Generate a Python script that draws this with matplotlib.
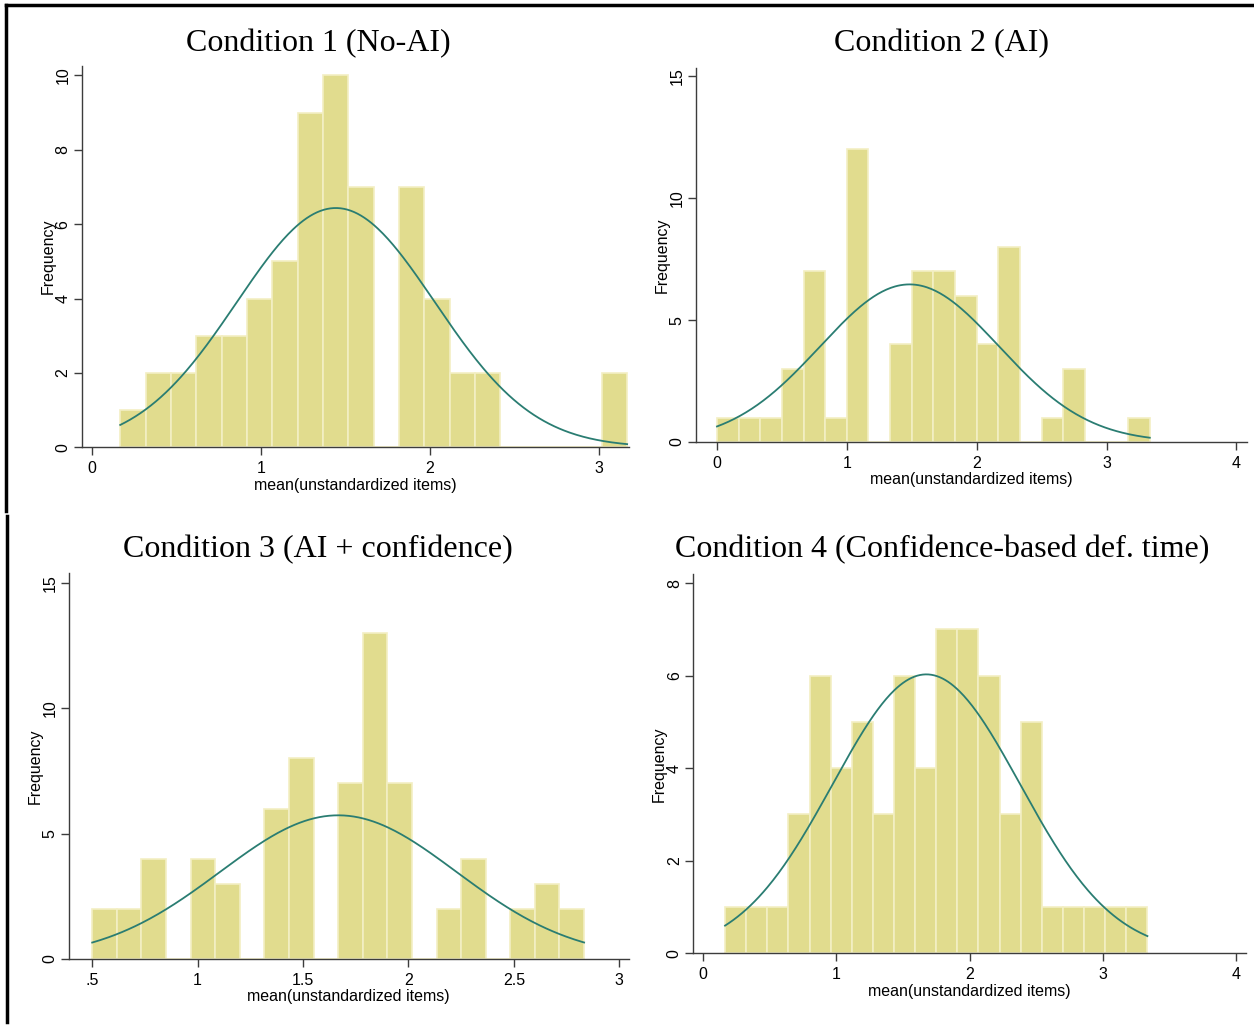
import numpy as np
import matplotlib.pyplot as plt
from matplotlib.lines import Line2D

# histogram counts (20 bins per condition)
titles = ["Condition 1 (No-AI)", "Condition 2 (AI)",
          "Condition 3 (AI + confidence)", "Condition 4 (Confidence-based def. time)"]

c1_counts = [1, 2, 2, 3, 3, 4, 5, 9, 10, 7, 0, 7, 4, 2, 2, 0, 0, 0, 0, 2]
c2_counts = [1, 1, 1, 3, 7, 1, 12, 0, 4, 7, 7, 6, 4, 8, 0, 1, 3, 0, 0, 1]
c3_counts = [2, 2, 4, 0, 4, 3, 0, 6, 8, 0, 7, 13, 7, 0, 2, 4, 0, 2, 3, 2]
c4_counts = [1, 1, 1, 3, 6, 4, 5, 3, 6, 4, 7, 7, 6, 3, 5, 1, 1, 1, 1, 1]

# data range (min, max) of each condition
c1_range = (0.167, 3.167)
c2_range = (0.0, 3.333)
c3_range = (0.5, 2.833)
c4_range = (0.167, 3.333)

# mean and sd of the normal overlay
c1_norm = (1.443, 0.586)
c2_norm = (1.483, 0.689)
c3_norm = (1.667, 0.5605)
c4_norm = (1.676, 0.702)

c1_xticks = [0, 1, 2, 3]
c2_xticks = [0, 1, 2, 3, 4]
c3_xticks = [0.5, 1, 1.5, 2, 2.5, 3]
c3_xticklabels = [".5", "1", "1.5", "2", "2.5", "3"]
c4_xticks = [0, 1, 2, 3, 4]

c1_yticks = [0, 2, 4, 6, 8, 10]
c2_yticks = [0, 5, 10, 15]
c3_yticks = [0, 5, 10, 15]
c4_yticks = [0, 2, 4, 6, 8]

BAR = "#e1dc8e"
EDGE = "#f3efc4"
CURVE = "#2a7d72"
AX = "#3c3c3c"

plt.rcParams["font.family"] = "Liberation Sans"

W, H = 1254, 1025
fig = plt.figure(figsize=(W / 100, H / 100), dpi=100)

def px_axes(left, right, bottom, top):
    # pixel box (from top-left) -> figure axes
    return fig.add_axes([left / W, 1 - bottom / H, (right - left) / W, (bottom - top) / H])

# left, right, bottom, top in pixels ; xlim ; ylim
boxes = [
    (81.7, 629, 447.3, 65.7, (-0.061, 3.178), (0, 10.26)),
    (695.7, 1246.8, 442, 68.3, (-0.164, 4.08), (0, 15.33)),
    (68.6, 629, 959, 573, (0.388, 3.046), (0, 15.39)),
    (692.9, 1246, 953.3, 574.3, (-0.074, 4.072), (0, 8.19)),
]
counts = [c1_counts, c2_counts, c3_counts, c4_counts]
ranges = [c1_range, c2_range, c3_range, c4_range]
norms = [c1_norm, c2_norm, c3_norm, c4_norm]
xticks = [c1_xticks, c2_xticks, c3_xticks, c4_xticks]
xtlabels = [None, None, c3_xticklabels, None]
yticks = [c1_yticks, c2_yticks, c3_yticks, c4_yticks]
title_pos = [(318, 44), (942, 44), (318, 550), (942, 550)]

for i in range(4):
    l, r, b, t, xl, yl = boxes[i]
    ax = px_axes(l, r, b, t)
    cnt = np.array(counts[i])
    lo, hi = ranges[i]
    edges = np.linspace(lo, hi, len(cnt) + 1)
    w = edges[1] - edges[0]
    ax.bar(edges[:-1], cnt, width=w, align="edge", color=BAR,
           edgecolor=EDGE, linewidth=1.2, zorder=2)
    mu, sd = norms[i]
    xs = np.linspace(lo, hi, 300)
    ys = cnt.sum() * w / (sd * np.sqrt(2 * np.pi)) * np.exp(-0.5 * ((xs - mu) / sd) ** 2)
    ax.plot(xs, ys, color=CURVE, lw=1.3, zorder=3)

    ax.set_xlim(xl)
    ax.set_ylim(yl)
    ax.set_xticks(xticks[i])
    if xtlabels[i] is not None:
        ax.set_xticklabels(xtlabels[i])
    ax.set_yticks(yticks[i])
    for s in ["top", "right"]:
        ax.spines[s].set_visible(False)
    for s in ["left", "bottom"]:
        ax.spines[s].set_color(AX)
        ax.spines[s].set_linewidth(1.0)
        ax.spines[s].set_zorder(4)
    ax.tick_params(direction="out", length=6, width=1.0, color=AX,
                   labelsize=11.5, labelcolor="black")
    ax.tick_params(axis="x", pad=4)
    ax.tick_params(axis="y", pad=2)
    for lab in ax.get_yticklabels():
        lab.set_rotation(90)
        lab.set_va("center")
    ax.set_xlabel("mean(unstandardized items)", fontsize=11.5, labelpad=1)
    ax.set_ylabel("Frequency", fontsize=11.5, labelpad=0)
    ax.patch.set_alpha(0)

    tx, ty = title_pos[i]
    fig.text(tx / W, 1 - ty / H, titles[i], ha="center", va="center",
             fontsize=23, family="Liberation Serif")

# frame lines at the top and left edge
fig.add_artist(Line2D([6 / W, 1], [1 - 5 / H, 1 - 5 / H], color="black", lw=2.5))
fig.add_artist(Line2D([6 / W, 6 / W], [1 - 5 / H, 1 - 511 / H], color="black", lw=2.5))
fig.add_artist(Line2D([7 / W, 7 / W], [1 - 516 / H, 1 - 1022 / H], color="black", lw=2.5))

fig.savefig("out.png", dpi=100)
